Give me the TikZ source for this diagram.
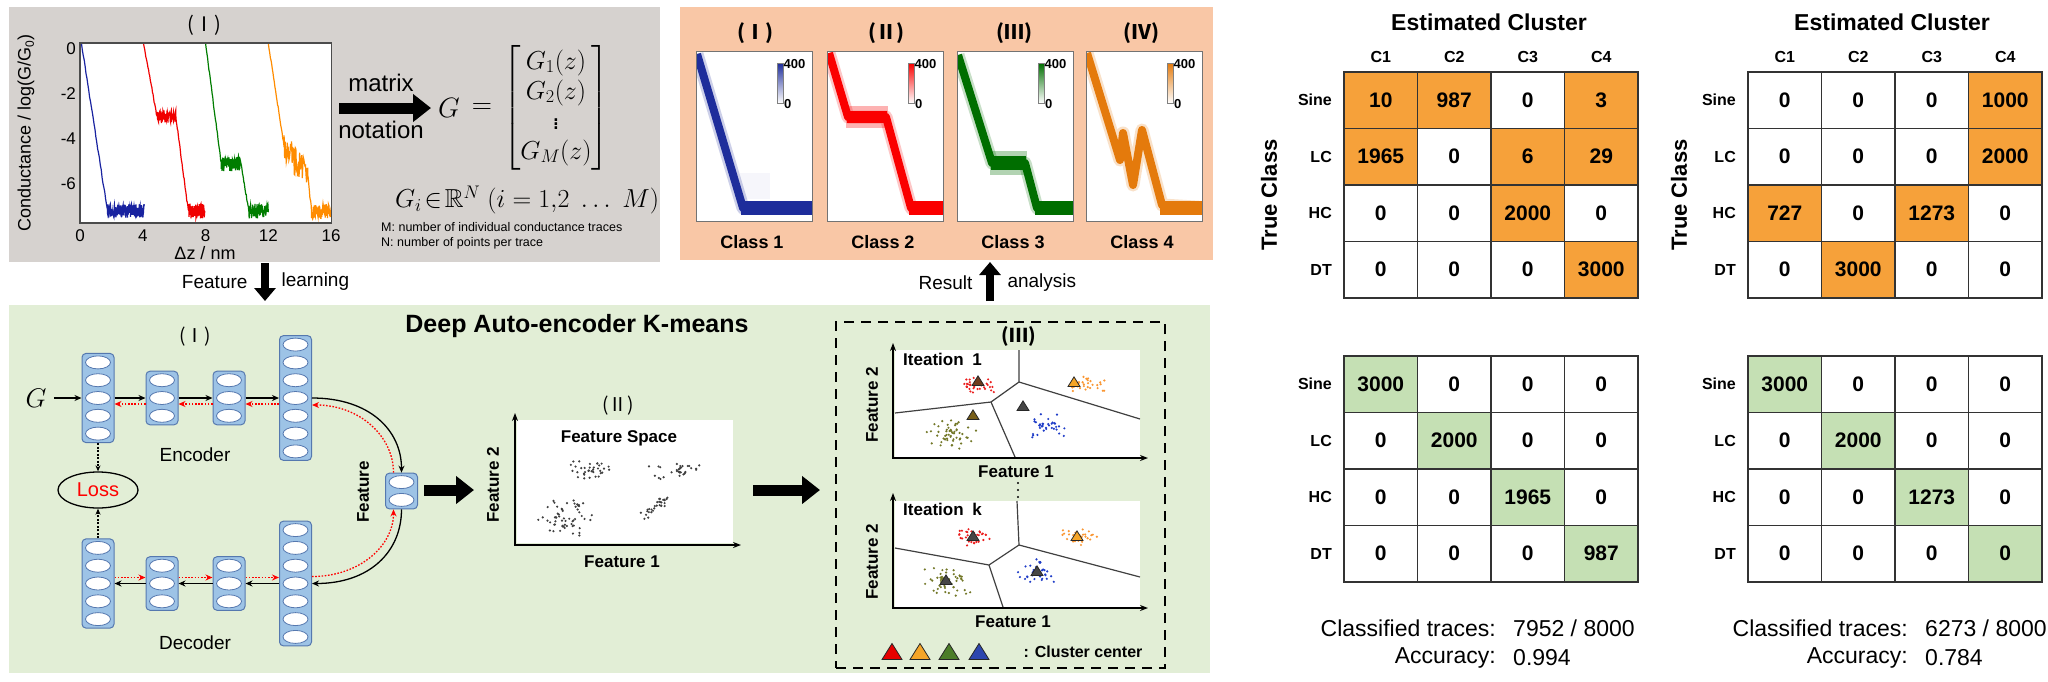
\documentclass[tikz,border=0pt]{standalone}
\usepackage{fix-cm}
\usepackage{amsmath,amssymb}
\usepackage{fontspec}
\setmainfont{Liberation Sans}
\newfontfamily\cjk{Noto Sans CJK SC}
\usetikzlibrary{arrows.meta,calc,shapes.geometric}

\definecolor{panelgray}{RGB}{214,210,207}
\definecolor{panelpeach}{RGB}{249,199,166}
\definecolor{panelgreen}{RGB}{226,238,214}
\definecolor{layerblue}{RGB}{157,195,230}
\definecolor{layeredge}{RGB}{85,120,175}
\definecolor{cellorange}{RGB}{246,161,58}
\definecolor{cellgreen}{RGB}{197,224,180}
\definecolor{trblue}{RGB}{25,35,160}
\definecolor{trred}{RGB}{240,0,0}
\definecolor{trgreen}{RGB}{0,125,0}
\definecolor{trorange}{RGB}{255,140,0}
\definecolor{dnblue}{RGB}{30,45,155}
\definecolor{dnred}{RGB}{250,0,0}
\definecolor{dngreen}{RGB}{0,110,0}
\definecolor{dnorange}{RGB}{228,122,12}
\definecolor{dotred}{RGB}{235,30,30}
\definecolor{dotorange}{RGB}{250,150,50}
\definecolor{dotolive}{RGB}{115,120,40}
\definecolor{dotblue}{RGB}{30,60,200}
\definecolor{trired}{RGB}{230,0,0}
\definecolor{triorange}{RGB}{245,165,40}
\definecolor{trigreen}{RGB}{75,125,40}
\definecolor{triblue}{RGB}{45,70,175}
\definecolor{tridark}{RGB}{70,70,70}
\definecolor{tribrown}{RGB}{110,60,30}
\definecolor{triolive}{RGB}{120,95,25}

\newcommand{\fsz}[2]{\fontsize{#1}{#2}\selectfont}
\newcommand{\dotcluster}[6]{%
  \foreach \i in {1,...,#5}{\fill[#6] ({#1+#3*(rand+rand)/1.3},{#2+#4*(rand+rand)/1.3}) circle (1.2pt);}}
\newcommand{\ctri}[4]{\filldraw[fill=#3,draw=black!85,line width=0.8pt] ({#1-#4},{#2+0.75*#4}) -- ({#1+#4},{#2+0.75*#4}) -- (#1,{#2-0.85*#4}) -- cycle;}
\newcommand{\nnlayer}[4]{%
  \node[layerbox, minimum height={(#4-1)*17.8+18}] (#1) at (#2,#3) {};
  \foreach \k in {1,...,#4}{\draw[fill=white,draw=layeredge,line width=0.8pt] (#2,{#3+(\k-(#4+1)/2)*17.8}) ellipse [x radius=12.5pt, y radius=6.5pt];}}
\newcommand{\densplot}[4]{%
  \begin{scope}[shift={(#1,51)}]
  \fill[white] (0,0) rectangle (116,170);
  \begin{scope}
  \clip (0,0) rectangle (116,170);
  \draw[#2, line width=13pt, opacity=0.22, line join=round] #3;
  \draw[#2, line width=8pt, line join=round] #3;
  #4
  \end{scope}
  \shade[top color=#2, bottom color=white] (81,12) rectangle (87,52);
  \draw[black!50, line width=0.5pt] (81,12) rectangle (87,52);
  \node[anchor=west,inner sep=0,font=\bfseries\fsz{13}{15}] (cbtop#1) at (87.5,13) {400};
  \node[anchor=west,inner sep=0,font=\bfseries\fsz{13}{15}] (cbbot#1) at (88,53) {0};
  \draw[black!55, line width=1pt] (0,0) rectangle (116,170);
  \end{scope}}

\tikzset{
  layerbox/.style={draw=layeredge, fill=layerblue, rounded corners=4pt, minimum width=32pt, inner sep=0, line width=1pt},
  blkarrow/.style={black, line width=1.3pt, -{Stealth[length=7pt,width=6pt]}},
  redarrow/.style={red, line width=1.3pt, dash pattern=on 1.6pt off 1.6pt, -{Stealth[length=7pt,width=6pt]}},
  dotarrow/.style={black, line width=1.2pt, dash pattern=on 2pt off 1.5pt, -{Stealth[length=6pt,width=5pt]}},
  bigarrow/.style={line width=11pt, -{Triangle[length=18pt,width=27pt]}},
  vbigarrow/.style={line width=8pt, -{Triangle[length=13pt,width=21pt]}},
  vor/.style={black!75, line width=1.2pt},
  axes/.style={line width=1.8pt, {Stealth[length=8pt,width=6pt]}-{Stealth[length=8pt,width=6pt]}},
  cell/.style={draw=black!80, line width=1.2pt, minimum width=73.5pt, minimum height=56.5pt, inner sep=0, font=\bfseries\fsz{21}{25}},
  lbl/.style={font=\fsz{17}{20}, inner sep=0},
  blbl/.style={font=\bfseries\fsz{17}{20}, inner sep=0},
  mlbl/.style={font=\bfseries\fsz{16}{19}, inner sep=0},
  stat/.style={font=\fsz{23}{27}, inner sep=0},
}

\begin{document}
\begin{tikzpicture}[x=1pt,y=-1pt]
\pgfmathsetseed{7}
\useasboundingbox (0,0) rectangle (2048,681);
\fill[white] (0,0) rectangle (2048,681);

% ---------- panels
\fill[panelgray] (9,7) rectangle (660,262);
\fill[panelpeach] (680,7) rectangle (1213,260);
\fill[panelgreen] (9,305) rectangle (1210,673);

% ---------- top-left: conductance traces
\node[font=\cjk\fsz{20}{24}] (tI) at (204,25) {(Ⅰ)};
\begin{scope}[shift={(80,49)}, x=15.7pt, y=22.5pt]
  \fill[white] (0,0.27) rectangle (16,-7.73);
  \draw[trblue, line width=1.2pt] plot[domain=0.1:1.75, samples=30] (\x,{0.2-(\x-0.1)*7.4/1.65+0.07*rand})
     -- plot[domain=1.75:4.1, samples=150] (\x,{-7.2+0.3*rand});
  \draw[trred, line width=1.2pt] plot[domain=4.05:4.9, samples=25] (\x,{0.25-(\x-4.05)*3.25/0.85+0.07*rand})
     -- plot[domain=4.9:6.1, samples=80] (\x,{-3.0+0.3*rand})
     -- plot[domain=6.1:6.9, samples=25] (\x,{-3.0-(\x-6.1)*4.2/0.8+0.08*rand})
     -- plot[domain=6.9:7.95, samples=70] (\x,{-7.2+0.33*rand});
  \draw[trgreen, line width=1.2pt] plot[domain=8.0:9.0, samples=25] (\x,{0.25-(\x-8.0)*5.35/1.0+0.07*rand})
     -- plot[domain=9.0:10.25, samples=80] (\x,{-5.1+0.33*rand})
     -- plot[domain=10.25:10.75, samples=20] (\x,{-5.1-(\x-10.25)*2.1/0.5+0.08*rand})
     -- plot[domain=10.75:12.0, samples=80] (\x,{-7.2+0.33*rand});
  \draw[trorange, line width=1.2pt] plot[domain=12.0:13.0, samples=25] (\x,{0.25-(\x-12.0)*4.6/1.0+0.07*rand})
     -- plot[domain=13.0:14.5, samples=45] (\x,{-4.35-(\x-13.0)*1.1/1.5+0.75*rand})
     -- plot[domain=14.5:14.75, samples=10] (\x,{-5.6-(\x-14.5)*1.6/0.25+0.1*rand})
     -- plot[domain=14.75:16.0, samples=80] (\x,{-7.2+0.33*rand});
  \draw[black!70, line width=1.2pt] (0,0.27) rectangle (16,-7.73);
  \foreach \z in {0,4,8,12,16}{\node[font=\fsz{17}{20}] (xt\z) at (\z,-8.31) {\z};}
  \foreach \v in {0,-2,-4,-6}{\node[anchor=east,font=\fsz{17}{20},inner sep=0] (yt\v) at (-0.25,\v) {\v};}
\end{scope}
\node[font=\fsz{18}{21}] (dz) at (205,253) {Δz / nm};
\node[rotate=90,font=\fsz{18}{21}] (ylab) at (26,133) {Conductance / log(G/G\raisebox{-0.35ex}{\fsz{12}{14}0})};

% matrix notation
\coordinate (mnA) at (339,108);
\coordinate (mnB) at (431,108);
\draw[bigarrow] (mnA) -- (mnB);
\node[font=\fsz{24}{28}, inner sep=0] (mtx) at (381,83) {matrix};
\node[font=\fsz{24}{28}, inner sep=0] (ntn) at (381,130) {notation};
\node[font=\fsz{28}{32}, inner sep=0] (Gsym) at (449,108) {$G$};
\node[font=\fsz{28}{32}, inner sep=0] (Geqs) at (482,109) {$=$};
\node[font=\fsz{26}{30}, inner sep=0] (Gmat) at (556,108) {$\begin{bmatrix}G_1(z)\\ G_2(z)\\ \vdots\\ G_M(z)\end{bmatrix}$};
\node[font=\fsz{26}{30}, inner sep=0] (Gi) at (527,200) {$G_i\!\in\!\mathbb{R}^N\ (i=1{,}2\ \ldots\ M)$};
\node[anchor=west,font=\fsz{12.5}{15},inner sep=0] (Mdef) at (381,227) {M: number of individual conductance traces};
\node[anchor=west,font=\fsz{12.5}{15},inner sep=0] (Ndef) at (381,243) {N: number of points per trace};

% feature learning
\coordinate (flA) at (265,263);
\coordinate (flB) at (265,301);
\draw[vbigarrow] (flA) -- (flB);
\node[anchor=east,font=\fsz{19}{23}] (flF) at (251,282) {Feature};
\node[anchor=west,font=\fsz{19}{23}] (flL) at (278,282) {learning};

% ---------- top-middle: class density plots
\foreach \h/\x in {Ⅰ/755,Ⅱ/886,Ⅲ/1014,Ⅳ/1141}{\node[font=\cjk\bfseries\fsz{20}{24}] (h\x) at (\x,33) {(\h)};}
\densplot{696}{dnblue}{(1,3) -- (47,157) -- (125,157)}{\fill[dnblue] (45,150) rectangle (116,164); \fill[dnblue,opacity=0.04] (44,122) rectangle (74,148);}
\densplot{827}{dnred}{(2,2) -- (21,66) -- (59,66) -- (84,157) -- (125,157)}{\fill[dnred,opacity=0.3] (19,55) rectangle (61,77); \fill[dnred] (20,60) rectangle (60,72); \fill[dnred] (82,150) rectangle (116,164);}
\densplot{957}{dngreen}{(1,4) -- (35,112) -- (68,112) -- (80,157) -- (125,157)}{\fill[dngreen,opacity=0.3] (33,100) rectangle (70,124); \fill[dngreen] (34,105) rectangle (69,119); \fill[dngreen] (78,150) rectangle (116,164);}
\densplot{1086}{dnorange}{(1,2) -- (34,109) -- (37,82) -- (47,134) -- (56,79) -- (76,154) -- (125,157)}{\fill[dnorange] (74,150) rectangle (116,164);}
\foreach \c/\x in {1/752,2/883,3/1013,4/1142}{\node[font=\bfseries\fsz{18}{22}] (cl\c) at (\x,242) {Class \c};}

% result analysis
\coordinate (raA) at (990,301);
\coordinate (raB) at (990,262);
\draw[vbigarrow] (raA) -- (raB);
\node[anchor=east,font=\fsz{19}{23}] (raR) at (976,283) {Result};
\node[anchor=west,font=\fsz{19}{23}] (raN) at (1004,283) {analysis};

% ---------- bottom-left: deep auto-encoder
\node[font=\bfseries\fsz{25}{30}] (dak) at (577,326) {Deep Auto-encoder K-means};
\node[font=\cjk\fsz{19}{23}] (aI) at (195,337) {(Ⅰ)};
\nnlayer{e1}{98}{398}{5}
\nnlayer{e2}{162}{398}{3}
\nnlayer{e3}{229}{398}{3}
\nnlayer{e4}{295.5}{398}{7}
\nnlayer{f}{401.5}{491}{2}
\nnlayer{d1}{98}{583.5}{5}
\nnlayer{d2}{162}{583.5}{3}
\nnlayer{d3}{229}{583.5}{3}
\nnlayer{d4}{295.5}{583.5}{7}
\node[font=\fsz{27}{32}] (Gin) at (36,398) {$G$};
\draw[blkarrow] ($(Gin.east)+(4,0)$) -- (e1.west);
\draw[blkarrow] (e1.east) -- (e2.west);
\draw[blkarrow] (e2.east) -- (e3.west);
\draw[blkarrow] (e3.east) -- (e4.west);
\draw[redarrow] ($(e2.west)+(0,6)$) -- ($(e1.east)+(0,6)$);
\draw[redarrow] ($(e3.west)+(0,6)$) -- ($(e2.east)+(0,6)$);
\draw[redarrow] ($(e4.west)+(0,6)$) -- ($(e3.east)+(0,6)$);
\draw[blkarrow] (d4.west) -- (d3.east);
\draw[blkarrow] (d3.west) -- (d2.east);
\draw[blkarrow] (d2.west) -- (d1.east);
\draw[redarrow] ($(d1.east)+(0,-6)$) -- ($(d2.west)+(0,-6)$);
\draw[redarrow] ($(d2.east)+(0,-6)$) -- ($(d3.west)+(0,-6)$);
\draw[redarrow] ($(d3.east)+(0,-6)$) -- ($(d4.west)+(0,-6)$);
\draw[blkarrow] (e4.east) .. controls +(58,0) and +(0,-42) .. (f.north);
\draw[redarrow] ($(f.north)+(-8,0)$) .. controls +(0,-36) and +(48,0) .. ($(e4.east)+(0,7)$);
\draw[blkarrow] (f.south) .. controls +(0,42) and +(58,0) .. (d4.east);
\draw[redarrow] ($(d4.east)+(0,-7)$) .. controls +(48,0) and +(0,36) .. ($(f.south)+(-8,0)$);
\node[font=\fsz{19}{23}] (enc) at (195,455) {Encoder};
\node[font=\fsz{19}{23}] (dec) at (195,643) {Decoder};
\node[rotate=90,font=\bfseries\fsz{17}{20}] (featl) at (363,492) {Feature};
\node[ellipse, draw, line width=1.3pt, minimum width=80pt, minimum height=36pt, inner sep=0, text=red, font=\fsz{20}{24}] (loss) at (98,490) {Loss};
\draw[dotarrow] (e1.south) -- (loss.north);
\draw[dotarrow] (d1.north) -- (loss.south);
\coordinate (fsA) at (424,490);
\coordinate (fsB) at (474,490);
\draw[bigarrow] (fsA) -- (fsB);

% feature space
\node[font=\cjk\fsz{19}{23}] (aII) at (618,406) {(Ⅱ)};
\node[fill=white, minimum width=216pt, minimum height=123pt, inner sep=0] (fsbox) at (625,481.5) {};
\draw[axes] (515,413) -- (515,545) -- (741,545);
\node[blbl] (fsT) at (619,438) {Feature Space};
\node[blbl,rotate=90] (fsY) at (493,485) {Feature 2};
\node[blbl] (fsX) at (622,562) {Feature 1};
\dotcluster{590}{470}{17}{7}{36}{black!75}
\dotcluster{678}{469}{20}{7}{32}{black!75}
\dotcluster{567}{518}{22}{13}{58}{black!75}
\foreach \i in {1,...,30}{\pgfmathsetmacro\tt{rand}\fill[black!75] ({655+13*\tt+4*rand},{507-9*\tt+5*rand}) circle (1.2pt);}
\coordinate (fkA) at (753,490);
\coordinate (fkB) at (820,490);
\draw[bigarrow] (fkA) -- (fkB);

% iterations
\node[draw, dash pattern=on 10pt off 7pt, line width=1.8pt, minimum width=329pt, minimum height=346pt, inner sep=0] (dbox) at (1000.5,495) {};
\node[font=\cjk\bfseries\fsz{19}{23}] (aIII) at (1019,336) {(Ⅲ)};
% iteration 1
\fill[white] (895,350) rectangle (1140,457);
\draw[vor] (1019,350) -- (1019,382) -- (991,402) -- (895,413);
\draw[vor] (991,402) -- (1015,457);
\draw[vor] (1019,382) -- (1140,419);
\dotcluster{980}{385}{13}{6}{36}{dotred}
\dotcluster{1087}{385}{14}{6}{30}{dotorange}
\dotcluster{953}{435}{19}{11}{55}{dotolive}
\dotcluster{1045}{426}{14}{9}{36}{dotblue}
\ctri{978}{381}{tribrown}{6}
\ctri{1074}{382}{triorange}{6}
\ctri{1023}{406}{tridark}{6}
\ctri{973}{415}{triolive}{6}
\draw[axes] (893,343) -- (893,458) -- (1148,458);
\node[anchor=west,font=\bfseries\fsz{17}{20},inner sep=0] (it1) at (903,359) {Iteation\hspace{4pt} 1};
\node[blbl,rotate=90] (i1y) at (872,405) {Feature 2};
\node[blbl] (i1x) at (1016,472) {Feature 1};
\foreach \yy in {483,490,497}{\fill (1018,\yy) circle (1.2pt);}
% iteration k
\fill[white] (895,501) rectangle (1140,607);
\draw[vor] (1017,501) -- (1019,545) -- (989,565) -- (895,548);
\draw[vor] (989,565) -- (1003,607);
\draw[vor] (1019,545) -- (1140,577);
\dotcluster{974}{537}{13}{6}{36}{dotred}
\dotcluster{1079}{537}{14}{6}{30}{dotorange}
\dotcluster{946}{581}{18}{10}{55}{dotolive}
\dotcluster{1037}{572}{14}{9}{36}{dotblue}
\ctri{973}{536}{tridark}{6}
\ctri{1077}{536}{triorange}{6}
\ctri{946}{580}{tridark}{6}
\ctri{1037}{571}{tridark}{6}
\draw[axes] (893,493) -- (893,608) -- (1148,608);
\node[anchor=west,font=\bfseries\fsz{17}{20},inner sep=0] (itk) at (903,509) {Iteation\hspace{4pt} k};
\node[blbl,rotate=90] (iky) at (872,562) {Feature 2};
\node[blbl] (ikx) at (1013,622) {Feature 1};
% legend
\ctri{892}{652}{trired}{10}
\ctri{920}{652}{triorange}{10}
\ctri{949}{652}{trigreen}{10}
\ctri{979}{652}{triblue}{10}
\node[font=\bfseries\fsz{16}{19}] (cc) at (1083,652) {: Cluster center};

% ---------- confusion matrices
\node[font=\bfseries\fsz{23}{27}] (ec1) at (1489,22) {Estimated Cluster};
\node[font=\bfseries\fsz{23}{27}] (ec2) at (1892,22) {Estimated Cluster};
\node[font=\bfseries\fsz{22}{26},rotate=90] (tc1) at (1269,195) {True Class};
\node[font=\bfseries\fsz{22}{26},rotate=90] (tc2) at (1679,195) {True Class};
\foreach \mx/\my/\m in {1344/72/a,1748/72/b,1344/356/c,1748/356/d}{
  \foreach \r/\rl in {0/Sine,1/LC,2/HC,3/DT}{\node[mlbl,anchor=east] (rl\m\r) at ({\mx-12},{\my+28.25+56.5*\r}) {\rl};}
}
\foreach \mx/\m in {1344/a,1748/b}{
  \foreach \c in {0,1,2,3}{\pgfmathtruncatemacro\cn{\c+1}\node[mlbl] (cl\m\c) at ({\mx+36.75+73.5*\c},57) {C\cn};}
}
\foreach \c/\r/\v/\f in {0/0/10/cellorange,1/0/987/cellorange,2/0/0/white,3/0/3/cellorange,
  0/1/1965/cellorange,1/1/0/white,2/1/6/cellorange,3/1/29/cellorange,
  0/2/0/white,1/2/0/white,2/2/2000/cellorange,3/2/0/white,
  0/3/0/white,1/3/0/white,2/3/0/white,3/3/3000/cellorange}{
  \node[cell,fill=\f] (ma\c\r) at ({1380.75+73.5*\c},{100.25+56.5*\r}) {\v};}
\foreach \c/\r/\v/\f in {0/0/0/white,1/0/0/white,2/0/0/white,3/0/1000/cellorange,
  0/1/0/white,1/1/0/white,2/1/0/white,3/1/2000/cellorange,
  0/2/727/cellorange,1/2/0/white,2/2/1273/cellorange,3/2/0/white,
  0/3/0/white,1/3/3000/cellorange,2/3/0/white,3/3/0/white}{
  \node[cell,fill=\f] (mb\c\r) at ({1784.75+73.5*\c},{100.25+56.5*\r}) {\v};}
\foreach \c/\r/\v/\f in {0/0/3000/cellgreen,1/0/0/white,2/0/0/white,3/0/0/white,
  0/1/0/white,1/1/2000/cellgreen,2/1/0/white,3/1/0/white,
  0/2/0/white,1/2/0/white,2/2/1965/cellgreen,3/2/0/white,
  0/3/0/white,1/3/0/white,2/3/0/white,3/3/987/cellgreen}{
  \node[cell,fill=\f] (mc\c\r) at ({1380.75+73.5*\c},{384.25+56.5*\r}) {\v};}
\foreach \c/\r/\v/\f in {0/0/3000/cellgreen,1/0/0/white,2/0/0/white,3/0/0/white,
  0/1/0/white,1/1/2000/cellgreen,2/1/0/white,3/1/0/white,
  0/2/0/white,1/2/0/white,2/2/1273/cellgreen,3/2/0/white,
  0/3/0/white,1/3/0/white,2/3/0/white,3/3/0/cellgreen}{
  \node[cell,fill=\f] (md\c\r) at ({1784.75+73.5*\c},{384.25+56.5*\r}) {\v};}

\node[stat,anchor=east] (ct1) at (1496,628) {Classified traces:};
\node[stat,anchor=west] (cv1) at (1513,628) {7952 / 8000};
\node[stat,anchor=east] (ac1) at (1496,658) {Accuracy:};
\node[stat,anchor=west] (av1) at (1513,658) {0.994};
\node[stat,anchor=east] (ct2) at (1908,628) {Classified traces:};
\node[stat,anchor=west] (cv2) at (1925,628) {6273 / 8000};
\node[stat,anchor=east] (ac2) at (1908,658) {Accuracy:};
\node[stat,anchor=west] (av2) at (1925,658) {0.784};
\end{tikzpicture}
\end{document}
